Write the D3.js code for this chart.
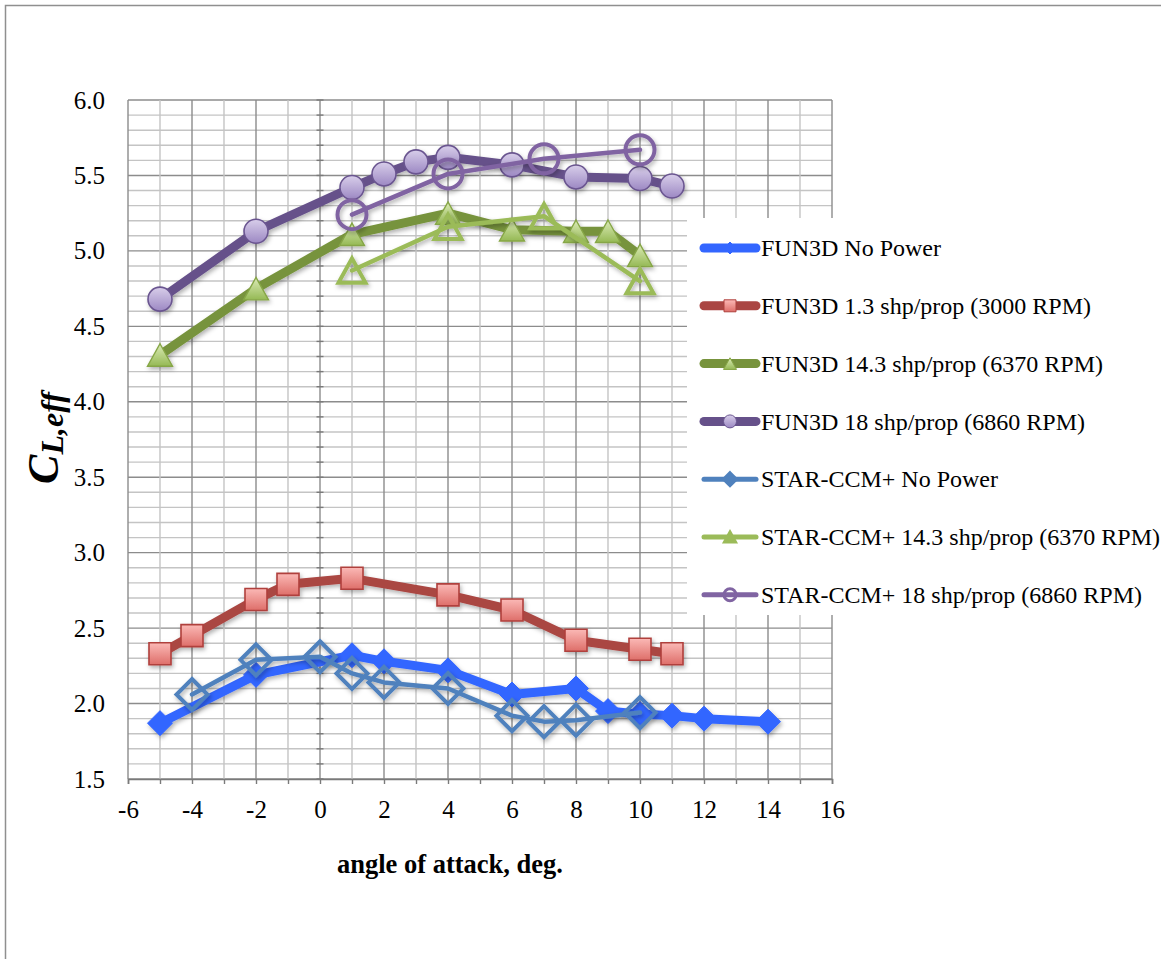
<!DOCTYPE html>
<html>
<head>
<meta charset="utf-8">
<script src="https://cdn.jsdelivr.net/npm/d3@7"></script>
<style>
  html, body { margin: 0; padding: 0; background: #fff; }
  svg { display: block; font-family: "Liberation Serif", "Times New Roman", serif; }
</style>
</head>
<body>
<svg id="chart" width="1161" height="959"></svg>
<script>
// ---- data: effective lift coefficient vs. angle of attack ----
const fun3dNoPowerAlpha = [-5, -2, 1, 2, 4, 6, 8, 9, 10, 11, 12, 14];
const fun3dNoPowerCL    = [1.87, 2.19, 2.32, 2.28, 2.22, 2.06, 2.10, 1.95, 1.93, 1.92, 1.90, 1.88];

const fun3d13Alpha = [-5, -4, -2, -1, 1, 4, 6, 8, 10, 11];
const fun3d13CL    = [2.33, 2.45, 2.69, 2.79, 2.83, 2.72, 2.62, 2.42, 2.36, 2.33];

const fun3d143Alpha = [-5, -2, 1, 4, 6, 8, 9, 10];
const fun3d143CL    = [4.31, 4.75, 5.11, 5.25, 5.14, 5.13, 5.13, 4.97];

const fun3d18Alpha = [-5, -2, 1, 2, 3, 4, 6, 8, 10, 11];
const fun3d18CL    = [4.68, 5.13, 5.42, 5.51, 5.59, 5.62, 5.57, 5.49, 5.48, 5.43];

const starNoPowerAlpha = [-4, -2, 0, 1, 2, 4, 6, 7, 8, 10];
const starNoPowerCL    = [2.06, 2.29, 2.31, 2.20, 2.14, 2.10, 1.92, 1.88, 1.89, 1.94];

const star143Alpha = [1, 4, 7, 10];
const star143CL    = [4.87, 5.16, 5.23, 4.80];

const star18Alpha = [1, 4, 7, 10];
const star18CL    = [5.24, 5.51, 5.61, 5.67];

const seriesNames = [
  "FUN3D No Power",
  "FUN3D 1.3 shp/prop (3000 RPM)",
  "FUN3D 14.3 shp/prop (6370 RPM)",
  "FUN3D 18 shp/prop (6860 RPM)",
  "STAR-CCM+ No Power",
  "STAR-CCM+ 14.3 shp/prop (6370 RPM)",
  "STAR-CCM+ 18 shp/prop (6860 RPM)"
];

const xTicks = [-6, -4, -2, 0, 2, 4, 6, 8, 10, 12, 14, 16];
const yTicks = [1.5, 2.0, 2.5, 3.0, 3.5, 4.0, 4.5, 5.0, 5.5, 6.0];

const xTitle = "angle of attack, deg.";

// ---- layout ----
const svg = d3.select("#chart");
const plot = { left: 128, right: 832, top: 100, bottom: 779 };

const x = d3.scaleLinear().domain([-6, 16]).range([plot.left, plot.right]);
const y = d3.scaleLinear().domain([1.5, 6]).range([plot.bottom, plot.top]);

const defs = svg.append("defs");
const shadow = defs.append("filter").attr("id", "shadow")
  .attr("x", "-20%").attr("y", "-20%").attr("width", "140%").attr("height", "140%");
shadow.append("feDropShadow").attr("dx", 1.5).attr("dy", 2.5)
  .attr("stdDeviation", 2).attr("flood-color", "#000").attr("flood-opacity", 0.3);

function vGrad(id, top, bottom) {
  const g = defs.append("linearGradient").attr("id", id)
    .attr("x1", 0).attr("y1", 0).attr("x2", 0).attr("y2", 1);
  g.append("stop").attr("offset", "0%").attr("stop-color", top);
  g.append("stop").attr("offset", "100%").attr("stop-color", bottom);
}
vGrad("gRed", "#FBB9B6", "#DE6E69");
vGrad("gGreen", "#DCEBB8", "#95B954");
vGrad("gPurple", "#D8CEEA", "#9C88C3");

// outer frame
svg.append("rect").attr("x", 5.5).attr("y", 5.5).attr("width", 1200).attr("height", 1000)
  .attr("fill", "none").attr("stroke", "#8f8f8f").attr("stroke-width", 1.5);

// ---- grid ----
const grid = svg.append("g");
const minorY = d3.range(15, 61).map(d => d / 10);
grid.selectAll("line.hy").data(minorY).join("line")
  .attr("x1", plot.left).attr("x2", plot.right)
  .attr("y1", d => y(d)).attr("y2", d => y(d))
  .attr("stroke", d => Math.round(d * 10) % 5 === 0 ? "#8c8c8c" : "#c4c4c4")
  .attr("stroke-width", 1.4);
const minorX = d3.range(-6, 17);
grid.selectAll("line.vx").data(minorX).join("line")
  .attr("y1", plot.top).attr("y2", plot.bottom)
  .attr("x1", d => x(d)).attr("x2", d => x(d))
  .attr("stroke", d => d % 2 === 0 ? "#8c8c8c" : "#c4c4c4")
  .attr("stroke-width", 1.4);

// vertical axis line through alpha = 0 with crossing ticks
grid.selectAll("line.yt").data(minorY).join("line")
  .attr("x1", x(0) - 3.5).attr("x2", x(0) + 3.5)
  .attr("y1", d => y(d)).attr("y2", d => y(d))
  .attr("stroke", "#7a7a7a").attr("stroke-width", 1.4);

// ---- axes ----
const xAxis = svg.append("g").attr("transform", `translate(0,${plot.bottom})`)
  .call(d3.axisBottom(x).tickValues(d3.range(-6, 17)).tickSize(5).tickPadding(16)
    .tickFormat(d => xTicks.includes(d) ? d3.format("d")(d).replace("−", "-") : ""));
xAxis.select(".domain").attr("stroke", "#7a7a7a").attr("stroke-width", 1.6);
xAxis.selectAll(".tick line").attr("stroke", "#7a7a7a").attr("stroke-width", 1.4);
xAxis.selectAll(".tick text").attr("font-size", 25).attr("fill", "#000")
  .attr("font-family", "Liberation Serif");

const yAxis = svg.append("g").attr("transform", `translate(${plot.left},0)`)
  .call(d3.axisLeft(y).tickValues(yTicks).tickSize(0).tickPadding(23).tickFormat(d3.format(".1f")));
yAxis.select(".domain").remove();
yAxis.selectAll(".tick text").attr("font-size", 25).attr("fill", "#000")
  .attr("font-family", "Liberation Serif");

// axis titles
svg.append("text").attr("x", 450).attr("y", 873).attr("text-anchor", "middle")
  .attr("font-size", 26.5).attr("font-weight", "bold").text(xTitle);

const yt = svg.append("text").attr("transform", "translate(58,438) rotate(-90)")
  .attr("text-anchor", "middle").attr("font-weight", "bold").attr("font-style", "italic");
yt.append("tspan").attr("font-size", 44).text("C");
yt.append("tspan").attr("font-size", 32).attr("dy", 5).text("L,eff");

// ---- marker shapes ----
const shapes = {
  diamond: h => `M0,${-h}L${h},0L0,${h}L${-h},0Z`,
  square: s => `M${-s / 2},${-s / 2}h${s}v${s}h${-s}Z`,
  triangle: w => `M0,${-w * 0.45}L${w / 2},${w * 0.45}L${-w / 2},${w * 0.45}Z`,
  circle: r => `M${r},0A${r},${r} 0 1,1 ${-r},0A${r},${r} 0 1,1 ${r},0Z`
};

const series = [
  { name: seriesNames[0], xs: fun3dNoPowerAlpha, ys: fun3dNoPowerCL, color: "#3366FF", width: 9,
    shape: "diamond", size: 12.5, fill: "#3366FF", stroke: "#3366FF", mw: 1, lsize: 6 },
  { name: seriesNames[1], xs: fun3d13Alpha, ys: fun3d13CL, color: "#AA4643", width: 9,
    shape: "square", size: 22, fill: "url(#gRed)", stroke: "#B0403C", mw: 1.6, lsize: 12 },
  { name: seriesNames[2], xs: fun3d143Alpha, ys: fun3d143CL, color: "#77933C", width: 9,
    shape: "triangle", size: 25, fill: "url(#gGreen)", stroke: "#86A646", mw: 1.4, lsize: 13 },
  { name: seriesNames[3], xs: fun3d18Alpha, ys: fun3d18CL, color: "#66518A", width: 9,
    shape: "circle", size: 12, fill: "url(#gPurple)", stroke: "#6A5590", mw: 1.6, lsize: 6.5 },
  { name: seriesNames[4], xs: starNoPowerAlpha, ys: starNoPowerCL, color: "#4F81BD", width: 4.5,
    shape: "diamond", size: 15.5, fill: "none", stroke: "#4F81BD", mw: 4, lsize: 6.5, lfill: "#4F81BD" },
  { name: seriesNames[5], xs: star143Alpha, ys: star143CL, color: "#9BBB59", width: 4.5,
    shape: "triangle", size: 27, fill: "none", stroke: "#9BBB59", mw: 4, lsize: 11, lfill: "#9BBB59" },
  { name: seriesNames[6], xs: star18Alpha, ys: star18CL, color: "#8064A2", width: 4.5,
    shape: "circle", size: 14.5, fill: "none", stroke: "#8064A2", mw: 4, lsize: 6, lfill: "none" }
];

const line = d3.line().x(d => x(d[0])).y(d => y(d[1]));

series.forEach(s => {
  const pts = s.xs.map((a, i) => [a, s.ys[i]]);
  const g = svg.append("g").attr("filter", "url(#shadow)");
  g.append("path").datum(pts).attr("d", line)
    .attr("fill", "none").attr("stroke", s.color).attr("stroke-width", s.width)
    .attr("stroke-linejoin", "round").attr("stroke-linecap", "round");
  g.selectAll("path.m").data(pts).join("path")
    .attr("transform", d => `translate(${x(d[0])},${y(d[1])})`)
    .attr("d", shapes[s.shape](s.size))
    .attr("fill", s.fill).attr("stroke", s.stroke).attr("stroke-width", s.mw)
    .attr("stroke-linejoin", "miter");
});

// ---- legend ----
const legend = svg.append("g");
legend.append("rect").attr("x", 687).attr("y", 218).attr("width", 480).attr("height", 397)
  .attr("fill", "#fff");
const rowY = i => 248 + i * 57.8;
series.forEach((s, i) => {
  const row = legend.append("g").attr("transform", `translate(0,${rowY(i)})`);
  const thick = s.width > 6 ? 9 : 5;
  row.append("line").attr("x1", 704).attr("x2", 756).attr("y1", 0).attr("y2", 0)
    .attr("stroke", s.color).attr("stroke-width", thick).attr("stroke-linecap", "round");
  row.append("path").attr("transform", "translate(730,0)")
    .attr("d", shapes[s.shape](s.lsize))
    .attr("fill", s.lfill !== undefined ? s.lfill : s.fill)
    .attr("stroke", s.stroke).attr("stroke-width", s.fill === "none" ? 3 : 1);
  row.append("text").attr("x", 761).attr("y", 0).attr("dy", "0.34em")
    .attr("font-size", 24).attr("fill", "#000").text(s.name);
});
</script>
</body>
</html>
